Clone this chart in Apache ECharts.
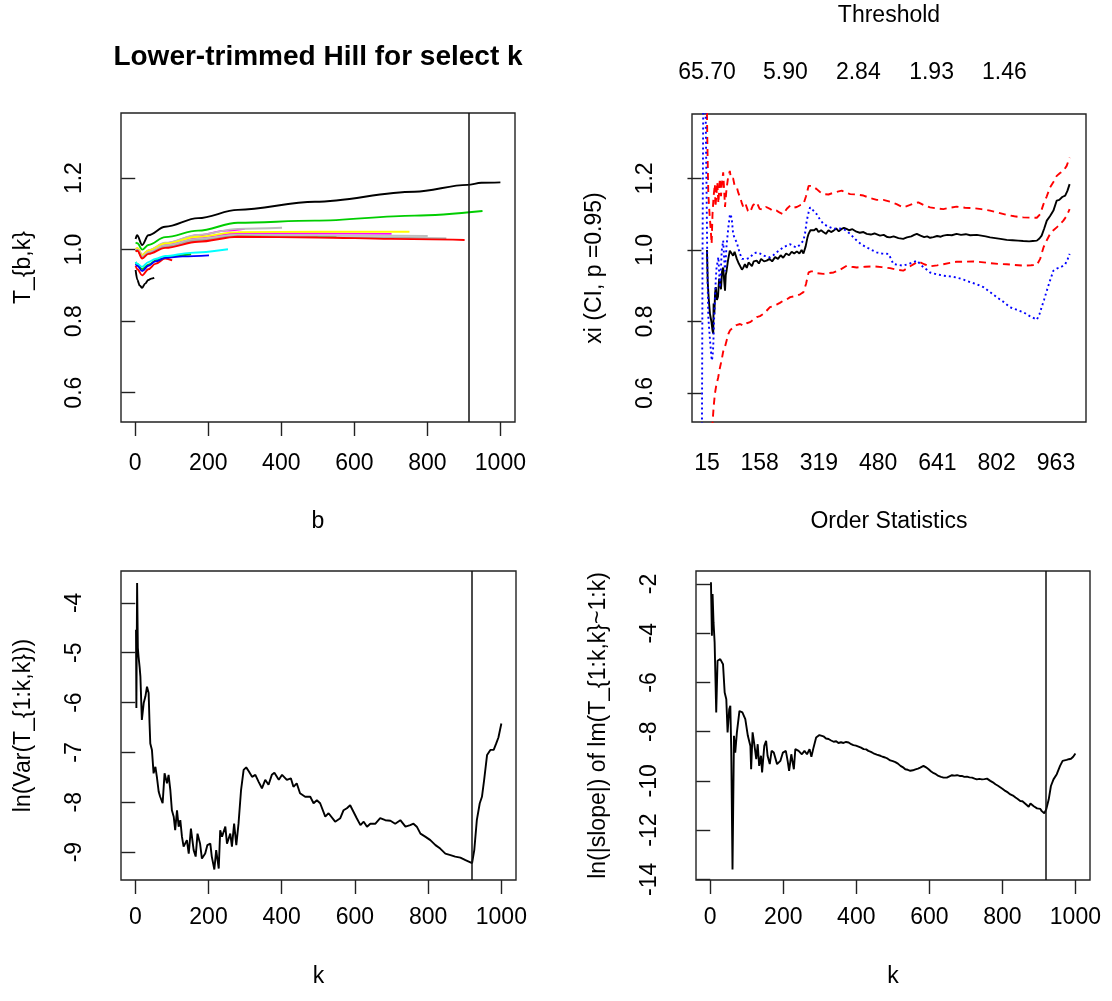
<!DOCTYPE html>
<html><head><meta charset="utf-8">
<script src="https://cdn.jsdelivr.net/npm/echarts@6/dist/echarts.min.js"></script>
<style>html,body{margin:0;padding:0;background:#fff}#c{width:1112px;height:1001px}</style>
</head><body><div id="c"></div>
<script>
// ---------- Panel 1: T_{b,k} for select k (b, value) ----------
const tl_k50  = [[1,0.943],[6,0.915],[12,0.900],[19,0.893],[27,0.905],[36,0.915],[44,0.919],[52,0.921]];
const tl_k100 = [[1,0.955],[6,0.945],[19,0.928],[36,0.945],[55,0.960],[82,0.975],[101,0.970]];
const tl_k150 = [[1,0.965],[6,0.960],[19,0.945],[36,0.958],[60,0.972],[100,0.982],[153,0.987]];
const tl_k200 = [[1,0.960],[6,0.955],[19,0.940],[36,0.955],[55,0.967],[82,0.977],[130,0.981],[202,0.984]];
const tl_k250 = [[1,0.965],[6,0.960],[19,0.952],[36,0.965],[55,0.974],[82,0.982],[150,0.991],[254,1.001]];
const tl_k300 = [[1,1.000],[6,1.003],[19,0.985],[36,0.998],[82,1.018],[172,1.040],[250,1.053],[300,1.058]];
const tl_k400 = [[1,1.000],[6,1.004],[19,0.984],[36,0.998],[82,1.019],[172,1.041],[281,1.058],[402,1.061]];
const tl_k550 = [[1,0.995],[6,0.998],[19,0.978],[36,0.990],[82,1.008],[172,1.025],[281,1.038],[400,1.037],[551,1.035]];
const tl_k700 = [[1,1.000],[6,1.002],[19,0.982],[36,0.995],[82,1.013],[172,1.032],[281,1.045],[500,1.045],[702,1.044]];
const tl_k750 = [[1,1.002],[6,1.004],[19,0.985],[36,0.998],[82,1.017],[172,1.036],[281,1.049],[500,1.050],[751,1.050]];
const tl_k800 = [[1,0.998],[6,1.000],[19,0.980],[36,0.993],[82,1.012],[172,1.030],[281,1.042],[500,1.040],[801,1.038]];
const tl_k850 = [[1,0.997],[6,0.999],[19,0.978],[36,0.990],[82,1.008],[172,1.026],[281,1.037],[500,1.035],[852,1.031]];
const tl_k900 = [[1,0.995],[6,0.997],[19,0.975],[36,0.988],[82,1.005],[172,1.022],[281,1.036],[500,1.034],[700,1.030],[902,1.027]];
const tl_k950 = [[1,1.020],[6,1.018],[19,1.000],[36,1.013],[82,1.035],[172,1.053],[281,1.075],[492,1.081],[765,1.095],[951,1.108]];
const tl_k1000= [[1,1.030],[5,1.040],[19,1.013],[36,1.040],[82,1.064],[172,1.088],[281,1.111],[492,1.134],[765,1.162],[910,1.181],[948,1.187],[1000,1.188]];
const tlKopt = 913;
const tlXTicks = [0,200,400,600,800,1000];
const tlYTicks = [0.6,0.8,1.0,1.2];

// ---------- Panel 2: xi with CI (order statistic k, value) ----------
const tr_xi = [[15,1.000],[17,0.910],[20,0.860],[23,0.822],[27,0.800],[30,0.775],[32,0.766],[33,0.850],[35,0.820],[37,0.880],[39,0.896],[42,0.860],[45,0.870],[48,0.920],[50,0.924],[53,0.890],[56,0.940],[59,0.951],[62,0.910],[64,0.886],[66,0.930],[68,0.940],[72,0.970],[77,0.998],[82,0.990],[86,0.984],[90,0.995],[96,0.975],[100,0.965],[105,0.960],[110,0.945],[114,0.951],[118,0.960],[123,0.950],[128,0.965],[132,0.961],[137,0.955],[142,0.968],[150,0.970],[156,0.962],[162,0.975],[170,0.968],[177,0.970],[185,0.975],[192,0.968],[200,0.980],[208,0.975],[215,0.985],[222,0.978],[230,0.990],[238,0.985],[245,0.995],[252,0.990],[259,0.996],[266,0.990],[272,1.000],[277,0.990],[283,1.010],[288,1.035],[291,1.045],[296,1.055],[300,1.059],[306,1.055],[312,1.060],[318,1.050],[325,1.055],[331,1.050],[338,1.045],[345,1.055],[352,1.050],[359,1.054],[366,1.060],[373,1.052],[380,1.058],[387,1.062],[394,1.059],[401,1.055],[410,1.058],[421,1.051],[430,1.048],[440,1.050],[449,1.045],[460,1.043],[470,1.046],[485,1.040],[495,1.042],[505,1.036],[512,1.035],[522,1.038],[535,1.033],[548,1.031],[558,1.035],[570,1.038],[578,1.042],[585,1.045],[595,1.040],[605,1.036],[613,1.038],[621,1.034],[630,1.036],[640,1.039],[650,1.037],[657,1.040],[668,1.042],[680,1.041],[693,1.045],[705,1.042],[718,1.044],[730,1.041],[748,1.042],[760,1.040],[772,1.038],[784,1.035],[798,1.033],[812,1.031],[829,1.028],[845,1.027],[860,1.026],[874,1.025],[890,1.024],[900,1.025],[911,1.026],[918,1.032],[924,1.040],[931,1.060],[938,1.082],[947,1.095],[956,1.110],[965,1.138],[972,1.140],[980,1.148],[988,1.152],[994,1.165],[1000,1.184]];
const tr_upper = [[14,1.450],[16,1.300],[18.6,1.156],[22,1.100],[25,1.060],[27.6,1.017],[30,1.100],[33,1.150],[36.5,1.184],[38,1.120],[41,1.160],[43,1.190],[46,1.130],[50,1.200],[53,1.150],[56,1.190],[59,1.217],[62,1.160],[64,1.120],[68,1.170],[72,1.200],[77,1.221],[80,1.200],[86,1.200],[90,1.180],[96,1.175],[100,1.160],[105,1.147],[110,1.130],[114,1.119],[120,1.128],[126,1.110],[132,1.105],[140,1.125],[150,1.133],[158,1.115],[168,1.112],[176,1.120],[186,1.115],[195,1.108],[204,1.110],[213,1.104],[222,1.100],[232,1.115],[241,1.124],[250,1.118],[259,1.120],[268,1.125],[277,1.128],[284,1.150],[291,1.179],[300,1.179],[306,1.175],[313,1.170],[322,1.162],[331,1.156],[345,1.155],[359,1.160],[370,1.163],[381,1.166],[392,1.160],[404,1.156],[420,1.155],[440,1.152],[458,1.145],[476,1.140],[494,1.140],[512,1.135],[530,1.128],[548,1.119],[565,1.125],[578,1.130],[589,1.133],[605,1.125],[621,1.119],[640,1.116],[657,1.114],[675,1.118],[693,1.121],[716,1.118],[739,1.117],[760,1.114],[784,1.110],[806,1.104],[829,1.098],[850,1.094],[874,1.091],[895,1.090],[911,1.090],[920,1.100],[929,1.128],[938,1.150],[947,1.175],[956,1.190],[965,1.207],[974,1.215],[983,1.221],[992,1.235],[1000,1.258]];
const tr_lower = [[25,0.400],[29,0.500],[33,0.560],[36.5,0.598],[40,0.620],[45.5,0.644],[50,0.670],[54.6,0.691],[59,0.716],[64,0.730],[68.4,0.747],[73,0.765],[77.5,0.775],[86.6,0.784],[95,0.790],[104.7,0.793],[114,0.788],[123,0.795],[132,0.798],[141,0.805],[150,0.812],[159,0.815],[168,0.821],[177,0.830],[186,0.840],[195,0.843],[204,0.847],[213,0.852],[222,0.858],[232,0.862],[241,0.868],[250,0.870],[259,0.872],[268,0.876],[277,0.882],[284,0.905],[291,0.937],[298,0.940],[304,0.940],[315,0.935],[331,0.933],[345,0.935],[359,0.937],[377,0.945],[395,0.956],[408,0.953],[422,0.951],[445,0.953],[467,0.954],[490,0.952],[512,0.949],[530,0.945],[548,0.942],[568,0.955],[589,0.968],[605,0.960],[621,0.954],[640,0.957],[657,0.960],[675,0.964],[693,0.967],[716,0.967],[739,0.968],[760,0.966],[784,0.963],[806,0.961],[829,0.960],[850,0.958],[874,0.956],[895,0.957],[911,0.958],[920,0.975],[929,1.007],[938,1.027],[947,1.045],[956,1.055],[965,1.063],[974,1.072],[983,1.082],[992,1.095],[1000,1.114]];
const tr_alt = [[1,0.400],[3,1.000],[5,1.450],[8,1.550],[11,1.420],[14,1.150],[16,0.950],[18.6,0.812],[23,0.750],[28,0.691],[30,0.700],[32,0.730],[34,0.800],[36.5,0.858],[39,0.920],[41,0.951],[46,0.980],[50,0.895],[53,0.950],[55,0.998],[59,1.026],[62,0.970],[64,0.940],[68,1.010],[73,1.063],[77.5,1.100],[82,1.090],[86,1.045],[91,1.030],[95.7,1.022],[100,1.005],[104.7,0.989],[110,0.975],[114,0.970],[123,0.975],[132,0.979],[141,0.990],[150,0.993],[159,0.990],[168,0.984],[177,0.982],[186,0.979],[195,0.985],[204,0.993],[213,1.000],[222,1.007],[232,1.012],[241,1.016],[250,1.010],[259,1.007],[268,1.015],[277,1.026],[282,1.050],[286,1.082],[291,1.105],[295,1.119],[304,1.110],[313,1.100],[322,1.085],[331,1.073],[345,1.065],[359,1.059],[372,1.060],[386,1.059],[395,1.052],[404,1.045],[413,1.035],[422,1.026],[435,1.015],[449,1.007],[462,1.000],[476,0.993],[490,0.990],[508,0.989],[515,0.975],[521,0.961],[535,0.958],[548,0.956],[566,0.962],[585,0.970],[595,0.960],[603,0.951],[612,0.945],[621,0.937],[639,0.932],[657,0.928],[675,0.926],[693,0.923],[712,0.917],[730,0.910],[748,0.904],[766,0.896],[784,0.882],[802,0.868],[820,0.855],[838,0.840],[856,0.833],[874,0.826],[892,0.815],[911,0.805],[918,0.820],[924,0.840],[931,0.862],[938,0.886],[947,0.915],[956,0.942],[965,0.948],[974,0.951],[981,0.955],[988,0.960],[995,0.975],[1000,0.989]];
const trBottomTicks = [15,158,319,480,641,802,963];
const trTopTicks = [15,228,426,625,823];
const trTopLabels = ['65.70','5.90','2.84','1.93','1.46'];

// ---------- Panel 3: ln(Var(T_{1:k,k})) ----------
const bl_lnvar = [[2,-4.54],[3,-6.11],[5,-3.60],[7,-4.90],[9,-5.08],[12,-5.30],[14,-5.48],[18,-6.35],[23,-6.01],[27.6,-5.88],[32,-5.68],[36.5,-5.81],[39,-6.42],[41,-6.82],[45.5,-6.95],[50,-7.42],[55,-7.29],[59,-7.49],[64,-7.79],[68,-7.89],[74.7,-8.02],[80,-7.42],[86.6,-7.62],[91,-7.45],[95.7,-7.75],[100,-8.16],[105,-8.29],[109,-8.56],[114,-8.16],[118.5,-8.49],[123,-8.36],[127.5,-8.69],[132,-8.89],[141,-8.76],[146,-9.03],[152,-8.53],[159.5,-8.96],[165,-9.09],[170,-8.63],[177,-8.83],[182,-9.13],[191,-9.03],[197,-8.86],[205,-8.83],[209,-9.09],[216,-9.35],[221,-8.96],[228,-9.33],[232,-8.56],[237,-8.69],[246,-8.49],[250.5,-8.83],[259.5,-8.63],[264,-8.89],[270,-8.43],[276,-8.86],[282,-8.43],[289,-7.75],[296,-7.35],[303,-7.30],[310,-7.38],[319,-7.49],[328,-7.45],[337,-7.59],[346,-7.72],[355,-7.55],[364,-7.65],[373,-7.45],[380,-7.41],[392,-7.55],[401,-7.45],[414,-7.55],[425,-7.52],[432,-7.69],[441,-7.62],[450,-7.82],[464,-7.89],[478,-7.89],[487,-8.02],[496,-7.96],[505,-8.02],[519,-8.29],[528,-8.22],[546,-8.39],[560,-8.32],[569,-8.16],[578,-8.12],[587,-8.06],[596,-8.19],[605,-8.32],[615,-8.46],[624,-8.39],[633,-8.49],[642,-8.43],[656,-8.43],[669,-8.32],[683,-8.36],[697,-8.37],[710,-8.43],[724,-8.36],[738,-8.49],[751,-8.46],[760,-8.43],[769,-8.49],[779,-8.63],[792,-8.69],[806,-8.76],[820,-8.86],[833,-8.93],[847,-9.03],[861,-9.06],[874,-9.09],[888,-9.11],[902,-9.16],[914,-9.20],[920,-9.22],[926,-8.96],[933,-8.36],[941,-8.02],[947,-7.89],[953,-7.55],[961,-7.05],[970,-6.95],[979,-6.95],[986,-6.82],[992,-6.70],[1000,-6.42]];
const blKopt = 920;
const blYTicks = [-9,-8,-7,-6,-5,-4];

// ---------- Panel 4: ln(|slope|) ----------
const br_lnslope = [[2,-1.93],[4.6,-4.10],[6.4,-2.41],[9,-3.56],[12,-4.37],[16.4,-7.22],[20,-5.12],[27.4,-5.05],[35,-5.26],[39.5,-6.41],[44,-6.68],[47.5,-8.03],[52,-7.09],[55,-6.95],[57.5,-8.71],[61,-13.60],[65,-8.17],[68.5,-8.85],[73,-8.03],[80,-7.16],[88,-7.22],[96,-7.49],[103,-8.17],[110,-8.58],[112,-9.53],[116,-8.03],[120,-8.44],[126,-9.12],[130,-8.51],[134,-9.39],[139,-8.98],[142,-9.66],[148,-8.58],[153,-8.37],[157,-8.98],[163,-9.32],[168,-8.78],[174,-8.85],[183,-9.32],[192,-9.19],[199,-8.85],[207,-8.78],[212,-9.19],[216,-9.59],[222,-8.92],[229,-9.53],[233,-8.71],[242,-8.78],[251,-8.92],[258,-8.78],[265,-8.92],[272,-8.71],[277,-9.02],[283,-8.64],[290,-8.24],[299,-8.14],[310,-8.19],[317,-8.28],[324,-8.30],[331,-8.36],[338,-8.41],[345,-8.39],[351,-8.46],[358,-8.43],[365,-8.46],[372,-8.42],[379,-8.44],[386,-8.51],[392,-8.55],[399,-8.57],[406,-8.61],[413,-8.65],[420,-8.71],[427,-8.72],[433,-8.78],[440,-8.82],[447,-8.88],[456,-8.93],[466,-8.98],[472,-9.02],[479,-9.05],[486,-9.10],[493,-9.17],[500,-9.20],[507,-9.24],[514,-9.30],[521,-9.39],[528,-9.45],[534,-9.53],[541,-9.55],[548,-9.59],[555,-9.57],[562,-9.53],[569,-9.50],[575,-9.46],[584,-9.39],[591,-9.45],[598,-9.53],[605,-9.62],[612,-9.69],[618,-9.73],[625,-9.80],[632,-9.84],[639,-9.87],[648,-9.87],[655,-9.82],[662,-9.77],[669,-9.79],[676,-9.77],[683,-9.80],[689,-9.80],[696,-9.84],[703,-9.83],[710,-9.86],[717,-9.87],[724,-9.91],[730,-9.94],[737,-9.92],[744,-9.94],[751,-9.93],[758,-9.91],[767,-10.00],[774,-10.06],[781,-10.14],[788,-10.20],[795,-10.27],[801,-10.33],[808,-10.41],[815,-10.47],[822,-10.55],[829,-10.60],[836,-10.68],[842,-10.74],[849,-10.82],[855,-10.83],[860,-10.89],[866,-10.97],[872,-11.05],[877,-10.92],[881,-10.95],[886,-11.03],[890,-11.09],[895,-11.12],[899,-11.16],[904,-11.14],[908,-11.23],[912,-11.28],[915,-11.32],[920,-11.16],[927,-10.75],[933,-10.21],[940,-9.94],[949,-9.73],[958,-9.39],[965,-9.19],[970,-9.15],[976,-9.15],[982,-9.12],[988,-9.10],[994,-9.02],[1000,-8.89]];
const brKopt = 920;
const brYTicks = [-14,-12,-10,-8,-6,-4,-2];
const kTicks = [0,200,400,600,800,1000];

// ---------- chart ----------
const FONT = "'Liberation Sans', Arial, Helvetica, sans-serif";
const FS = 23;
const txt = {fontFamily: FONT, fontSize: FS, color: '#000'};
const chart = echarts.init(document.getElementById('c'), null, {renderer: 'canvas'});

const gridBox = {show: true, borderColor: '#222', borderWidth: 1.4, backgroundColor: 'transparent', containLabel: false};
const grids = [
  Object.assign({left: 121, top: 113, width: 394, height: 309}, gridBox),
  Object.assign({left: 692, top: 114, width: 394, height: 308}, gridBox),
  Object.assign({left: 121, top: 571, width: 395, height: 309}, gridBox),
  Object.assign({left: 696, top: 571, width: 394, height: 309}, gridBox)
];

function xAx(grid, min, max, ticks, name, showTicks, margin, gap) {
  return {
    type: 'value', gridIndex: grid, min: min, max: max, position: 'bottom',
    axisLine: {show: false}, splitLine: {show: false},
    axisTick: {show: showTicks, length: 14, customValues: ticks, lineStyle: {color: '#222', width: 1.4}},
    axisLabel: Object.assign({customValues: ticks, margin: margin, formatter: v => String(v)}, txt),
    name: name, nameLocation: 'middle', nameGap: gap, nameTextStyle: txt
  };
}
function yAx(grid, min, max, ticks, name, fmt) {
  return {
    type: 'value', gridIndex: grid, min: min, max: max,
    axisLine: {show: false}, splitLine: {show: false},
    axisTick: {show: true, length: 14, customValues: ticks, lineStyle: {color: '#222', width: 1.4}},
    axisLabel: Object.assign({customValues: ticks, rotate: 90, margin: 35, formatter: fmt}, txt),
    name: name, nameLocation: 'middle', nameRotate: 90, nameGap: 86, nameTextStyle: txt
  };
}

const xAxes = [
  xAx(0, -39, 1040, tlXTicks, 'b', true, 30, 88),
  xAx(1, -25.7, 1044.5, trBottomTicks, 'Order Statistics', false, 30, 88),
  xAx(2, -39, 1040, kTicks, 'k', true, 26, 85),
  xAx(3, -39, 1040, kTicks, 'k', true, 26, 85),
  {
    type: 'value', gridIndex: 1, min: -25.7, max: 1044.5, position: 'top',
    axisLine: {show: false}, splitLine: {show: false}, axisTick: {show: false},
    axisLabel: Object.assign({customValues: trTopTicks, margin: 30,
      formatter: v => trTopLabels[trTopTicks.indexOf(v)]}, txt),
    name: 'Threshold', nameLocation: 'middle', nameGap: 87, nameTextStyle: txt
  }
];
const yAxes = [
  yAx(0, 0.518, 1.382, tlYTicks, 'T_{b,k}', v => v.toFixed(1)),
  yAx(1, 0.519, 1.380, tlYTicks, 'xi (CI, p =0.95)', v => v.toFixed(1)),
  yAx(2, -9.56, -3.36, blYTicks, 'ln(Var(T_{1:k,k}))', v => String(v)),
  yAx(3, -14.03, -1.47, brYTicks, 'ln(|slope|) of lm(T_{1:k,k}~1:k)', v => String(v))
];

function vline(k) {
  return {symbol: ['none','none'], silent: true, label: {show: false},
    lineStyle: {color: '#111', width: 1.5, type: 'solid'}, emphasis: {disabled: true},
    data: [{xAxis: k}]};
}
function ln(xi, yi, data, color, width, dash, extra) {
  return Object.assign({
    type: 'line', xAxisIndex: xi, yAxisIndex: yi, data: data, showSymbol: false, symbol: 'none',
    silent: true, animation: false, clip: true,
    lineStyle: {color: color, width: width, type: dash || 'solid'}
  }, extra || {});
}

const sm = {smooth: 0.35, smoothMonotone: 'x'};
const tlSeries = [
  ln(0,0,tl_k50,'#000000',1.9,null,sm),
  ln(0,0,tl_k100,'#FF0000',1.9,null,sm),
  ln(0,0,tl_k150,'#00CD00',1.9,null,sm),
  ln(0,0,tl_k200,'#0000FF',1.9,null,sm),
  ln(0,0,tl_k250,'#00FFFF',1.9,null,sm),
  ln(0,0,tl_k300,'#FF00FF',1.9,null,sm),
  ln(0,0,tl_k400,'#BEBEBE',1.9,null,sm),
  ln(0,0,tl_k550,'#00CD00',1.9,null,sm),
  ln(0,0,tl_k700,'#FF00FF',1.9,null,sm),
  ln(0,0,tl_k750,'#FFFF00',1.9,null,sm),
  ln(0,0,tl_k800,'#BEBEBE',1.9,null,sm),
  ln(0,0,tl_k850,'#A8A8A8',1.9,null,sm),
  ln(0,0,tl_k900,'#FF0000',1.9,null,sm),
  ln(0,0,tl_k950,'#00CD00',1.9,null,sm),
  ln(0,0,tl_k1000,'#000000',1.9,null,Object.assign({markLine: vline(tlKopt)}, sm))
];

const option = {
  animation: false,
  backgroundColor: '#ffffff',
  grid: grids,
  xAxis: xAxes,
  yAxis: yAxes,
  graphic: [
    {type: 'text', x: 318, y: 57, silent: true,
     style: {text: 'Lower-trimmed Hill for select k', fontFamily: FONT, fontSize: 28, fontWeight: 'bold',
             fill: '#000', textAlign: 'center', textVerticalAlign: 'middle'}}
  ],
  series: tlSeries.concat([
    ln(1,1,tr_xi,'#000000',1.9),
    ln(1,1,tr_upper,'#FF0000',1.9,[7,5]),
    ln(1,1,tr_lower,'#FF0000',1.9,[7,5]),
    ln(1,1,tr_alt,'#0000FF',1.9,[2,3]),
    ln(2,2,bl_lnvar,'#000000',1.9,null,{markLine: vline(blKopt)}),
    ln(3,3,br_lnslope,'#000000',1.9,null,{markLine: vline(brKopt)})
  ])
};
chart.setOption(option);
</script></body></html>
